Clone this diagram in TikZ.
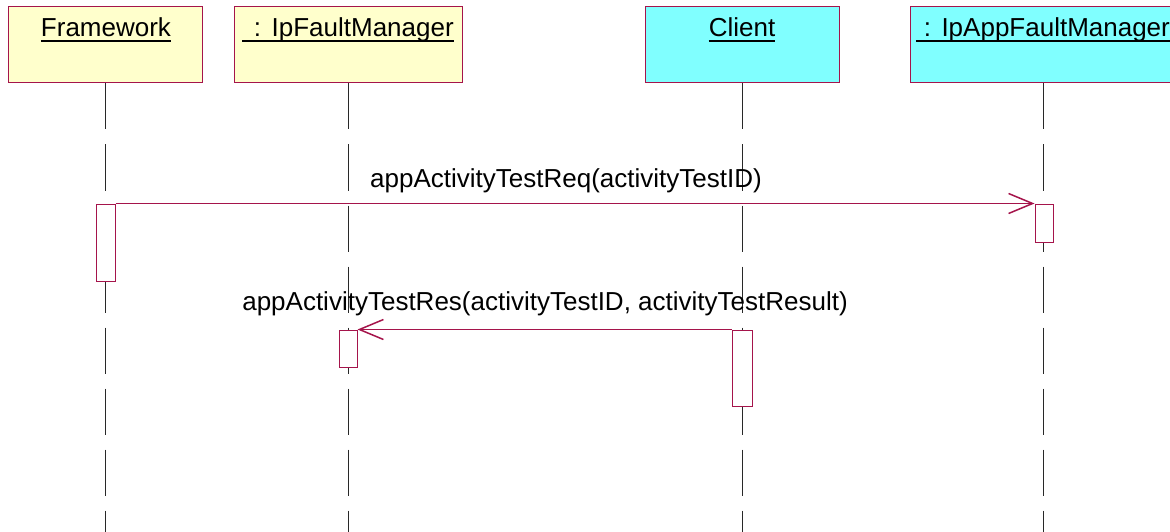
\documentclass[tikz,border=0pt]{standalone}
\usepackage{fontspec}
\setmainfont{Liberation Sans}
\usetikzlibrary{arrows.meta}
\definecolor{umlred}{RGB}{165,20,75}
\definecolor{objyellow}{RGB}{255,255,204}
\definecolor{objcyan}{RGB}{128,255,255}
\definecolor{lifegray}{RGB}{40,40,40}
\tikzset{
  objbox/.style={draw=umlred, line width=1pt, minimum height=76pt, inner sep=0pt},
  objtext/.style={anchor=base, inner sep=0pt, font=\fontsize{26}{30}\selectfont},
  ulinestyle/.style={line width=1.4pt, black},
  lifeline/.style={draw=lifegray, line width=1pt, dash pattern=on 46pt off 15pt},
  actbox/.style={draw=umlred, fill=white, line width=1pt, inner sep=0pt},
  msg/.style={draw=umlred, line width=1.2pt, -{Straight Barb[length=24pt,width=20pt,line width=1.5pt]}},
  msglabel/.style={anchor=base, inner sep=0pt, font=\fontsize{26}{30}\selectfont}
}
\begin{document}
\begin{tikzpicture}[x=1pt,y=-1pt]
\useasboundingbox (0,0) rectangle (1170,532);
\clip (0,0) rectangle (1170,532);
% object boxes
\node[objbox, fill=objyellow, minimum width=194pt] (fw) at (105,45) {};
\node[objbox, fill=objyellow, minimum width=228pt] (ifm) at (348,45) {};
\node[objbox, fill=objcyan, minimum width=194pt] (cl) at (742,45) {};
\node[objbox, fill=objcyan, minimum width=266pt] (iafm) at (1043,45) {};
% titles
\node[objtext] (tfw) at (106,37) {Framework};
\node[objtext] (tifm) at (348,37) {\hspace{0.45em}:\hspace{0.4em}IpFaultManager};
\node[objtext] (tcl) at (742,37) {Client};
\node[objtext] (tiafm) at (1043,37) {\hspace{0.3em}:\hspace{0.4em}IpAppFaultManager};
\foreach \t in {tfw,tifm,tcl,tiafm}
  \draw[ulinestyle] ([yshift=-4pt]\t.base west) -- ([yshift=-4pt]\t.base east);
% lifeline ends
\coordinate (efw) at (105,532);
\coordinate (eifm) at (348,532);
\coordinate (ecl) at (742,532);
\coordinate (eiafm) at (1043,532);
\draw[lifeline] (fw.south) -- (efw);
\draw[lifeline] (ifm.south) -- (eifm);
\draw[lifeline] (cl.south) -- (ecl);
\draw[lifeline] (iafm.south) -- (eiafm);
% activation boxes
\node[actbox, minimum width=19pt, minimum height=77pt] (afw) at (105.5,242.5) {};
\node[actbox, minimum width=18pt, minimum height=38pt] (aiafm) at (1044,223) {};
\node[actbox, minimum width=18pt, minimum height=37pt] (aifm) at (348,348.5) {};
\node[actbox, minimum width=20pt, minimum height=76pt] (acl) at (742.5,368) {};
% messages
\draw[msg] (afw.north east) -- (aiafm.north west);
\node[msglabel] (l1) at (566,187) {appActivityTestReq(activityTestID)};
\draw[msg] (acl.north west) -- (aifm.north east);
\node[msglabel] (l2) at (545,310) {appActivityTestRes(activityTestID, activityTestResult)};
\end{tikzpicture}
\end{document}
